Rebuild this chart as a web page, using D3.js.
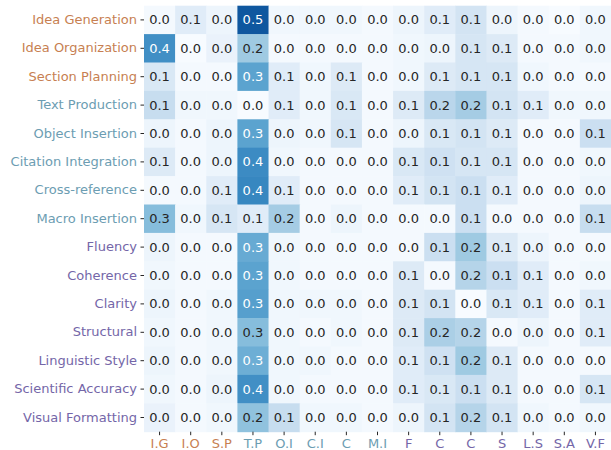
<!DOCTYPE html>
<html>
<head>
<meta charset="utf-8">
<script src="https://cdn.jsdelivr.net/npm/d3@7"></script>
<style>
  html, body { margin: 0; padding: 0; background: #fff; }
  svg { display: block; font-family: "DejaVu Sans", sans-serif; }
</style>
</head>
<body>
<svg id="chart" width="611" height="450"></svg>
<script>
// Row (source) labels and their stage groups
const rowLabels = [
  "Idea Generation", "Idea Organization", "Section Planning",
  "Text Production", "Object Insertion", "Citation Integration", "Cross-reference", "Macro Insertion",
  "Fluency", "Coherence", "Clarity", "Structural", "Linguistic Style", "Scientific Accuracy", "Visual Formatting"
];
const rowGroups = ["P","P","P","I","I","I","I","I","R","R","R","R","R","R","R"];

// Column (target) labels and their stage groups
const colLabels = ["I.G","I.O","S.P","T.P","O.I","C.I","C","M.I","F","C","C","S","L.S","S.A","V.F"];
const colGroups = ["P","P","P","I","I","I","I","I","R","R","R","R","R","R","R"];

// Transition proportions, one array per row
const rowIdeaGeneration     = [0.01,0.07,0.03,0.51,0.02,0.02,0.02,0.01,0.03,0.07,0.11,0.03,0.01,0.00,0.02];
const rowIdeaOrganization   = [0.38,0.00,0.04,0.22,0.01,0.01,0.01,0.01,0.02,0.03,0.10,0.08,0.01,0.01,0.02];
const rowSectionPlanning    = [0.09,0.01,0.01,0.33,0.07,0.02,0.08,0.01,0.02,0.08,0.10,0.10,0.02,0.01,0.01];
const rowTextProduction     = [0.14,0.02,0.02,0.00,0.07,0.02,0.09,0.01,0.08,0.17,0.21,0.11,0.07,0.02,0.02];
const rowObjectInsertion    = [0.03,0.01,0.03,0.33,0.03,0.02,0.10,0.01,0.03,0.09,0.11,0.08,0.01,0.01,0.13];
const rowCitationIntegration= [0.08,0.01,0.03,0.39,0.02,0.01,0.01,0.01,0.09,0.12,0.10,0.10,0.01,0.01,0.02];
const rowCrossReference     = [0.01,0.01,0.07,0.40,0.07,0.01,0.01,0.01,0.07,0.11,0.13,0.07,0.01,0.01,0.03];
const rowMacroInsertion     = [0.26,0.02,0.10,0.07,0.21,0.01,0.03,0.01,0.01,0.01,0.13,0.01,0.01,0.01,0.14];
const rowFluency            = [0.03,0.01,0.01,0.31,0.02,0.01,0.01,0.01,0.01,0.13,0.22,0.08,0.03,0.01,0.01];
const rowCoherence          = [0.02,0.01,0.01,0.33,0.02,0.01,0.01,0.01,0.08,0.01,0.18,0.13,0.07,0.01,0.02];
const rowClarity            = [0.03,0.01,0.02,0.34,0.02,0.02,0.02,0.01,0.08,0.11,0.00,0.09,0.07,0.01,0.07];
const rowStructural         = [0.02,0.01,0.02,0.26,0.02,0.01,0.02,0.01,0.08,0.20,0.18,0.01,0.03,0.01,0.07];
const rowLinguisticStyle    = [0.03,0.01,0.02,0.30,0.02,0.02,0.01,0.01,0.07,0.12,0.22,0.08,0.01,0.01,0.01];
const rowScientificAccuracy = [0.02,0.01,0.03,0.38,0.02,0.01,0.01,0.01,0.07,0.09,0.13,0.08,0.01,0.01,0.10];
const rowVisualFormatting   = [0.04,0.01,0.02,0.245,0.14,0.02,0.02,0.01,0.03,0.11,0.18,0.11,0.02,0.01,0.02];

const values = [
  rowIdeaGeneration, rowIdeaOrganization, rowSectionPlanning,
  rowTextProduction, rowObjectInsertion, rowCitationIntegration, rowCrossReference, rowMacroInsertion,
  rowFluency, rowCoherence, rowClarity, rowStructural, rowLinguisticStyle, rowScientificAccuracy, rowVisualFormatting
];

const groupColor = { P: "#c77f52", I: "#6c9db2", R: "#7466a8" };

const svg = d3.select("#chart");
const margin = { left: 144, top: 5.7, right: 0, bottom: 18.3 };
const width = 611 - margin.left - margin.right;
const height = 450 - margin.top - margin.bottom;

const x = d3.scaleBand().domain(d3.range(colLabels.length)).range([0, width]).padding(0);
const y = d3.scaleBand().domain(d3.range(rowLabels.length)).range([0, height]).padding(0);
const color = d3.scaleSequential(d3.interpolateBlues).domain([0, 0.6]);
const fmt = d3.format(".1f");

function luminance(c) {
  const rgb = d3.rgb(c);
  const lin = v => { v /= 255; return v <= 0.03928 ? v / 12.92 : Math.pow((v + 0.055) / 1.055, 2.4); };
  return 0.2126 * lin(rgb.r) + 0.7152 * lin(rgb.g) + 0.0722 * lin(rgb.b);
}

const g = svg.append("g").attr("transform", `translate(${margin.left},${margin.top})`);

const cells = values.flatMap((row, i) => row.map((v, j) => ({ i, j, v })));

g.selectAll("rect.cell")
  .data(cells)
  .join("rect")
  .attr("class", "cell")
  .attr("x", d => x(d.j))
  .attr("y", d => y(d.i))
  .attr("width", x.bandwidth() + 0.5)
  .attr("height", y.bandwidth() + 0.5)
  .attr("fill", d => color(d.v));

g.selectAll("text.val")
  .data(cells)
  .join("text")
  .attr("class", "val")
  .attr("x", d => x(d.j) + x.bandwidth() / 2)
  .attr("y", d => y(d.i) + y.bandwidth() / 2)
  .attr("text-anchor", "middle")
  .attr("dy", "0.35em")
  .attr("font-size", 13)
  .attr("fill", d => luminance(color(d.v)) > 0.4 ? "#262626" : "#ffffff")
  .text(d => fmt(d.v));

// Left axis: row labels
const yAxis = g.append("g")
  .call(d3.axisLeft(y).tickSize(3.5).tickPadding(3.5).tickFormat(i => rowLabels[i]));
yAxis.select(".domain").remove();
yAxis.selectAll(".tick line").attr("stroke", "#262626").attr("stroke-width", 1);
yAxis.selectAll(".tick text")
  .attr("font-size", 13)
  .attr("font-family", "DejaVu Sans, sans-serif")
  .attr("fill", i => groupColor[rowGroups[i]]);

// Bottom axis: column labels
const xAxis = g.append("g")
  .attr("transform", `translate(0,${height})`)
  .call(d3.axisBottom(x).tickSize(3.5).tickPadding(3.5).tickFormat(j => colLabels[j]));
xAxis.select(".domain").remove();
xAxis.selectAll(".tick line").attr("stroke", "#262626").attr("stroke-width", 1);
xAxis.selectAll(".tick text")
  .attr("font-size", 13)
  .attr("font-family", "DejaVu Sans, sans-serif")
  .attr("fill", j => groupColor[colGroups[j]]);
</script>
</body>
</html>
